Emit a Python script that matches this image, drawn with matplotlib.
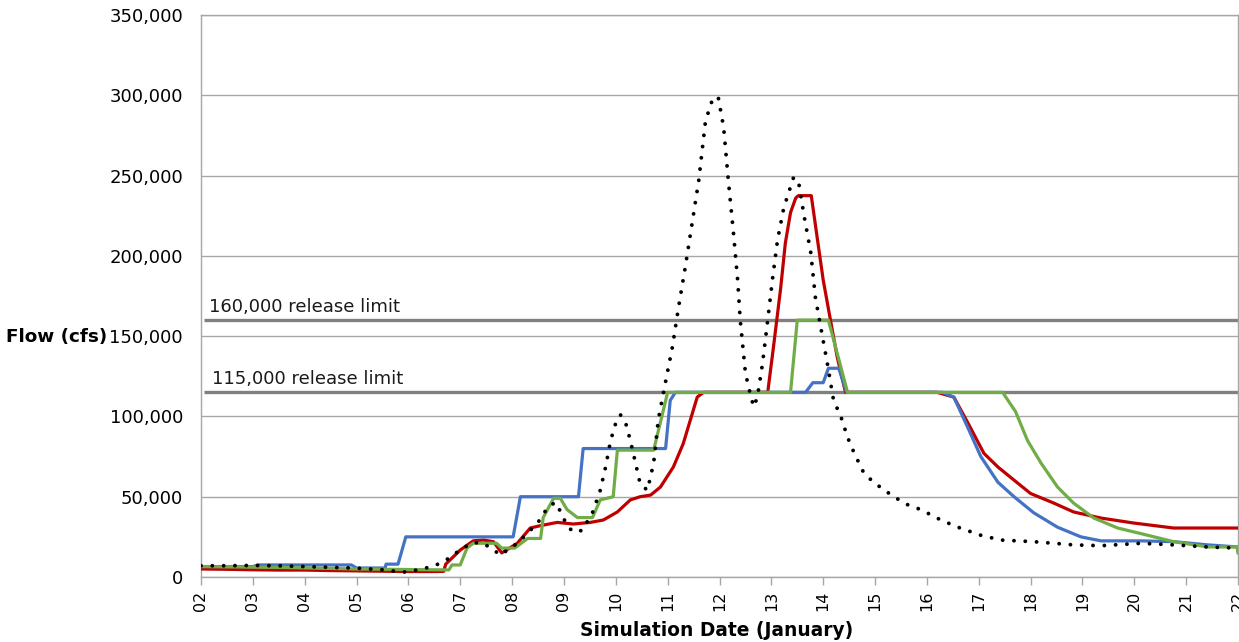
import matplotlib
matplotlib.use("Agg")
import matplotlib.pyplot as plt
from matplotlib.ticker import FuncFormatter, MultipleLocator

# ---------------- data ----------------
inflow_days = [2.0, 2.5, 3.0, 3.5, 4.0, 4.5, 5.0, 5.5, 5.9, 6.2, 6.45, 6.61, 6.8, 7.0, 7.25, 7.44,
               7.64, 7.77, 7.9, 8.1, 8.29, 8.5, 8.68, 8.83, 8.93, 9.06, 9.18, 9.35, 9.55, 9.7, 9.8,
               9.9, 10.0, 10.09, 10.19, 10.28, 10.38, 10.47, 10.61, 10.73, 10.82, 10.92, 11.09,
               11.21, 11.34, 11.48, 11.6, 11.73, 11.88, 11.98, 12.08, 12.17, 12.27, 12.35, 12.4,
               12.5, 12.6, 12.66, 12.73, 12.83, 12.93, 13.02, 13.12, 13.24, 13.43, 13.53, 13.62,
               13.76, 13.85, 13.95, 14.08, 14.2, 14.34, 14.47, 14.6, 14.78, 14.97, 15.36, 15.63,
               15.88, 16.27, 16.6, 17.04, 17.43, 18.06, 18.83, 19.36, 20.13, 20.76, 21.42, 22.0]
inflow = [7000, 7000, 7200, 7000, 6500, 6000, 5500, 4500, 3000, 4500, 6500, 8500, 12000, 17000,
          21500, 21000, 17000, 13700, 16500, 21000, 27000, 34000, 43000, 46500, 41000, 32000,
          28000, 29000, 40000, 54000, 68000, 85000, 96000, 101000, 96000, 85000, 71000, 58000,
          54000, 71000, 98000, 115000, 143000, 168000, 193000, 222000, 247000, 284000, 299000,
          298000, 280000, 247000, 214000, 185000, 160000, 127000, 113000, 106000, 112000,
          133000, 160000, 185000, 210000, 230000, 249000, 245000, 227000, 202000, 174000,
          156000, 133000, 110000, 100000, 87000, 77000, 65000, 59000, 50000, 45000, 42000,
          35500, 31000, 26000, 23000, 22000, 20000, 19500, 21000, 20000, 18700, 18000]

red_days = [2.0, 2.5, 3.0, 3.5, 4.0, 4.5, 5.0, 5.5, 6.0, 6.5, 6.68, 6.72, 7.0, 7.25, 7.45, 7.64,
            7.8, 7.9, 8.1, 8.35, 8.55, 8.87, 9.18, 9.51, 9.76, 10.03, 10.28, 10.47, 10.67, 10.86,
            11.11, 11.3, 11.44, 11.57, 11.69, 12.93, 13.04, 13.18, 13.27, 13.37, 13.47, 13.52,
            13.77, 13.89, 14.0, 14.14, 14.27, 14.43, 16.2, 16.52, 16.79, 17.1, 17.37, 17.75,
            18.0, 18.45, 18.83, 19.36, 19.99, 20.76, 21.2, 22.0]
red = [5000, 4800, 4500, 4300, 4300, 4000, 3800, 3600, 3400, 3400, 3500, 8000, 16800, 22500,
       23000, 22000, 15000, 17000, 21000, 30500, 32000, 34000, 33000, 34000, 35500, 40500,
       48000, 50000, 51000, 56000, 68500, 83000, 98000, 112000, 115000, 115000, 143000, 180000,
       208000, 227000, 236000, 237500, 237500, 210000, 185000, 160000, 137000, 115000, 115000,
       112000, 96000, 77000, 68500, 58500, 52000, 46000, 40500, 36700, 33600, 30500, 30500,
       30500]

blue_days = [2.0, 3.0, 3.1, 4.9, 5.0, 5.55, 5.57, 5.8, 5.95, 8.02, 8.16, 9.28, 9.37, 10.96,
             11.05, 11.15, 13.66, 13.8, 14.0, 14.1, 14.3, 14.45, 16.3, 16.52, 16.79, 17.04,
             17.37, 17.68, 18.06, 18.52, 18.97, 19.36, 20.13, 20.76, 21.42, 22.0]
blue = [6500, 6500, 7500, 7500, 5600, 5600, 8000, 8000, 25000, 25000, 50000, 50000, 80000,
        80000, 110000, 115000, 115000, 121000, 121000, 130000, 130000, 115000, 115000, 112000,
        93000, 75000, 59000, 50000, 40000, 31000, 25000, 22500, 22500, 22000, 20000, 18700]

green_days = [2.0, 3.5, 5.0, 6.78, 6.84, 7.0, 7.13, 7.25, 7.7, 7.8, 8.05, 8.3, 8.55, 8.6, 8.8,
              8.93, 9.06, 9.26, 9.55, 9.7, 9.95, 10.03, 10.73, 11.0, 13.37, 13.5, 14.1, 14.47,
              17.46, 17.71, 17.94, 18.2, 18.52, 18.83, 19.22, 19.68, 20.13, 20.76, 21.42, 21.98,
              22.0]
green = [6500, 6000, 5000, 4400, 7500, 7500, 18000, 21000, 21000, 18000, 18000, 24000, 24000,
         37000, 49000, 49000, 42000, 37000, 37000, 48000, 50000, 79000, 79000, 115000, 115000,
         160000, 160000, 115000, 115000, 103000, 85000, 71000, 56000, 46000, 36700, 30500, 27000,
         22000, 18700, 18700, 15000]

limits = [160000, 115000]
limit_labels = ["160,000 release limit", "115,000 release limit"]
xtick_labels = [f"{d:02d}" for d in range(2, 23)]

# ---------------- figure ----------------
fig = plt.figure(figsize=(12.39, 6.42), dpi=100)
ax = fig.add_axes([201 / 1239, 1 - 577 / 642, (1238 - 201) / 1239, (577 - 15) / 642])

ax.set_xlim(2, 22)
ax.set_ylim(0, 350000)
ax.yaxis.set_major_locator(MultipleLocator(50000))
ax.yaxis.set_major_formatter(FuncFormatter(lambda v, p: f"{int(v):,}"))
ax.set_xticks(range(2, 23))
ax.set_xticklabels(xtick_labels, rotation=90, fontsize=11.5)
ax.tick_params(axis="y", length=0, labelsize=13, pad=13)
ax.tick_params(axis="x", length=6, width=1, color="#A6A6A6", pad=4)
ax.grid(axis="y", color="#A6A6A6", lw=1)
ax.set_axisbelow(True)
for s in ax.spines.values():
    s.set_color("#A6A6A6")
    s.set_linewidth(1)

# release limits
for lim, lab, dx in zip(limits, limit_labels, [2.15, 2.22]):
    ax.plot([2.06, 22], [lim, lim], color="#808080", lw=2.4, solid_capstyle="butt", zorder=2)
    ax.text(dx, lim + 2500, lab, fontsize=13, va="bottom", ha="left", color="#1a1a1a", zorder=3)

lw = 2.3
ax.plot(red_days, red, color="#C00000", lw=lw, zorder=4)
ax.plot(blue_days, blue, color="#4472C4", lw=lw, zorder=5)
ax.plot(green_days, green, color="#70AD47", lw=lw, zorder=6)
ax.plot(inflow_days, inflow, color="black", lw=2.8, linestyle=(0, (0.01, 2.9)),
        dash_capstyle="round", zorder=7)

fig.text(6 / 1239, 1 - 337 / 642, "Flow (cfs)", fontsize=13.2, fontweight="bold",
         ha="left", va="center")
fig.text(717 / 1239, 1 - 630 / 642, "Simulation Date (January)", fontsize=13.4,
         fontweight="bold", ha="center", va="center")

fig.savefig("out.png", dpi=100)
